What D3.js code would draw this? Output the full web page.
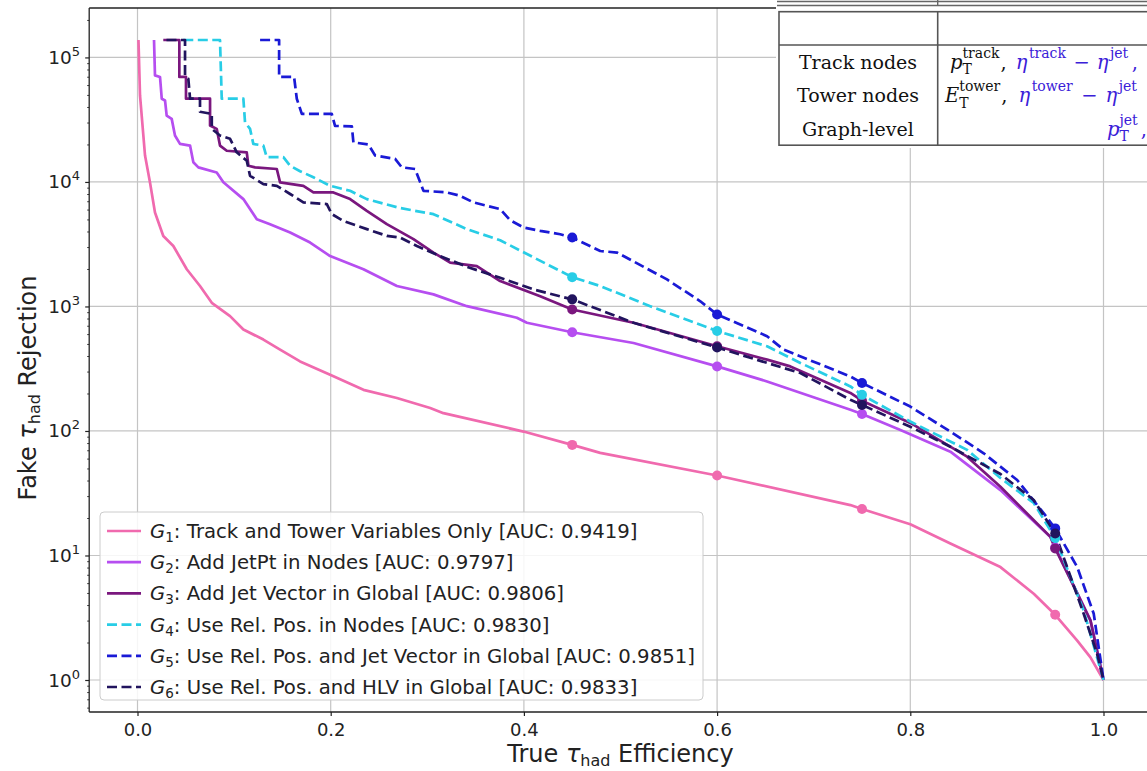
<!DOCTYPE html>
<html>
<head>
<meta charset="utf-8">
<script src="https://cdn.jsdelivr.net/npm/d3@7/dist/d3.min.js"></script>
<style>
html,body{margin:0;padding:0;background:#fff;}
svg{display:block;}
text{white-space:pre;}
</style>
</head>
<body>
<svg id="chart" width="1147" height="771"></svg>
<script>
// ---------------- data ----------------
const seriesNames = ["Track and Tower Variables Only","Add JetPt in Nodes","Add Jet Vector in Global",
  "Use Rel. Pos. in Nodes","Use Rel. Pos. and Jet Vector in Global","Use Rel. Pos. and HLV in Global"];
const aucValues = ["0.9419","0.9797","0.9806","0.9830","0.9851","0.9833"];

const effG1 = [0.001,0.0026,0.0078,0.0129,0.0181,0.0267,0.0371,0.051,0.0647,0.0769,0.0958,0.1096,0.1303,0.1476,0.1683,0.1994,0.2339,0.2685,0.303,0.3167,0.3996,0.45,0.479,0.6,0.738,0.75,0.8,0.8415,0.8933,0.9278,0.95,0.9728,0.9865,1.0];
const rejG1 = [138000,49500,16300,9930,5690,3680,3060,1990,1460,1070,836,653,542,450,362,283,214,184,153,139,98.9,77.3,66.7,43.9,25.4,23.6,17.8,12.5,8.07,4.93,3.34,2.07,1.52,1];

const effG2 = [0.0171,0.0181,0.0233,0.0251,0.0285,0.0302,0.0354,0.0388,0.044,0.0544,0.0578,0.063,0.082,0.0889,0.1096,0.1235,0.1372,0.158,0.1787,0.1994,0.2339,0.2685,0.3064,0.341,0.3927,0.4031,0.45,0.5135,0.6,0.6517,0.738,0.75,0.7898,0.8415,0.8933,0.9451,0.95,0.9865,1.0];
const rejG2 = [138000,71800,69700,46600,45100,34100,32100,23600,20200,19600,14400,13100,11900,9930,7280,5020,4580,3930,3260,2540,1990,1460,1250,1005,811,740,621,509,330,250,148,137,102,68.2,33.5,14.1,11.6,3.01,1];

const effG3 = [0.0267,0.0433,0.0433,0.0502,0.0502,0.0751,0.0751,0.082,0.0854,0.0924,0.1131,0.1148,0.1217,0.1442,0.1476,0.1717,0.1821,0.2028,0.2201,0.2374,0.2581,0.2857,0.3064,0.3237,0.3513,0.3754,0.4169,0.45,0.5135,0.6,0.6517,0.6758,0.738,0.75,0.8,0.8588,0.8933,0.9451,0.95,0.9865,1.0];
const rejG3 = [138000,138000,69700,69700,46600,46600,28400,26700,19600,17800,17300,13500,13100,12700,9930,9310,8240,8240,7280,5860,4580,3470,2710,2250,2110,1600,1210,946,740,479,374,330,202,175,116,62.2,35.6,14.1,11.4,3.01,1];

const effG4 = [0.0474,0.0854,0.0872,0.1096,0.1113,0.1165,0.1199,0.1303,0.1338,0.151,0.158,0.1683,0.1821,0.1994,0.2201,0.2374,0.2719,0.3064,0.341,0.3754,0.4099,0.45,0.479,0.5308,0.6,0.6517,0.6862,0.738,0.75,0.8,0.8588,0.8933,0.9278,0.95,0.9795,1.0];
const rejG4 = [138000,138000,46600,46600,30200,26700,20200,19600,15800,15800,13500,12200,10900,9310,8490,7280,6170,5510,4180,3400,2480,1720,1460,1005,635,479,352,228,195,119,70.5,41.9,26.4,13.8,3.61,1];

const effG5 = [0.1269,0.1466,0.1466,0.1621,0.1649,0.1701,0.2011,0.2045,0.2219,0.2235,0.239,0.246,0.2667,0.2736,0.2874,0.296,0.3202,0.334,0.3478,0.3754,0.3858,0.3996,0.4169,0.4376,0.45,0.479,0.4963,0.5481,0.5826,0.6,0.6517,0.6689,0.738,0.75,0.8,0.8415,0.876,0.9106,0.9382,0.95,0.9728,0.9899,1.0];
const rejG5 = [138000,138000,69700,69700,46600,35200,35200,28200,27900,20800,20000,16300,15300,13100,12700,8490,8240,7740,6850,6050,4930,4310,4050,3800,3580,2790,2710,1650,1100,863,577,450,274,243,157,98.9,66.2,40.4,21.8,16.5,8.07,3.40,1];

const effG6 = [0.03,0.0492,0.0492,0.0526,0.0544,0.0647,0.0647,0.0769,0.0769,0.0854,0.0958,0.1027,0.1131,0.1165,0.1303,0.1442,0.158,0.1717,0.196,0.2011,0.2132,0.2374,0.2581,0.2719,0.2892,0.3133,0.341,0.3754,0.4099,0.45,0.5135,0.6,0.6517,0.6862,0.738,0.75,0.8,0.8415,0.8933,0.9278,0.95,0.9795,0.9934,1.0];
const rejG6 = [138000,138000,71300,67500,46600,46600,36600,35200,26700,23600,22200,17300,14800,11200,9620,9310,8000,6850,6640,5520,4860,4180,3690,3580,3060,2540,2080,1700,1370,1140,740,468,352,292,178,162,108,74.8,45.1,27.9,15.0,3.40,1.62,1];

// working points (markers)
const wpEff = [0.45,0.6,0.75,0.95];
const wpG1 = [77.3,43.9,23.6,3.34];
const wpG2 = [621,330,137,11.6];
const wpG3 = [946,479,175,11.4];
const wpG4 = [1720,635,195,13.8];
const wpG5 = [3580,863,243,16.5];
const wpG6 = [1140,468,162,15.0];

const xTickValues = [0.0,0.2,0.4,0.6,0.8,1.0];
const yTickValues = [1,10,100,1000,10000,100000];
const yTickExponents = ["0","1","2","3","4","5"];

// ---------------- styles ----------------
const colors = ["#f06aae","#b64ef0","#7a177e","#28cde6","#1a1ad6","#21145e"];
const dashed = [false,false,false,true,true,true];

const series = [
  {eff:effG1, rej:rejG1, wp:wpG1},
  {eff:effG2, rej:rejG2, wp:wpG2},
  {eff:effG3, rej:rejG3, wp:wpG3},
  {eff:effG4, rej:rejG4, wp:wpG4},
  {eff:effG5, rej:rejG5, wp:wpG5},
  {eff:effG6, rej:rejG6, wp:wpG6}
];

// ---------------- layout ----------------
const svg = d3.select("#chart");
const L = 89.2, R = 1151.8, T = 8, B = 712;
const x = d3.scaleLinear().domain([-0.05,1.05]).range([L,R]);
const y = d3.scaleLog().domain([Math.pow(10,-0.257), Math.pow(10,5.397)]).range([B,T]);
const FONT = "'DejaVu Sans', sans-serif";

svg.append("defs").append("clipPath").attr("id","plotclip")
  .append("rect").attr("x",L).attr("y",T).attr("width",R-L).attr("height",B-T);

// grid
const grid = svg.append("g");
grid.selectAll("line.gx").data(xTickValues).join("line")
  .attr("x1",d=>x(d)).attr("x2",d=>x(d)).attr("y1",T).attr("y2",B)
  .attr("stroke","#c4c4c4").attr("stroke-width",1.2);
grid.selectAll("line.gy").data(yTickValues).join("line")
  .attr("x1",L).attr("x2",R).attr("y1",d=>y(d)).attr("y2",d=>y(d))
  .attr("stroke","#c4c4c4").attr("stroke-width",1.2);

// x axis
const xAxis = d3.axisBottom(x).tickValues(xTickValues).tickFormat(d3.format(".1f"))
  .tickSizeInner(4).tickSizeOuter(0).tickPadding(7);
const gx = svg.append("g").attr("transform",`translate(0,${B})`).call(xAxis);
gx.select(".domain").remove();
gx.selectAll(".tick line").attr("stroke","#222").attr("stroke-width",1.2);
gx.selectAll(".tick text").attr("font-family",FONT).attr("font-size",18).attr("fill","#222");

// y axis major
const yAxis = d3.axisLeft(y).tickValues(yTickValues).tickFormat("").tickSizeInner(4).tickSizeOuter(0);
const gy = svg.append("g").attr("transform",`translate(${L},0)`).call(yAxis);
gy.select(".domain").remove();
gy.selectAll(".tick line").attr("stroke","#222").attr("stroke-width",1.2);
// y axis minor
const minorVals = [];
for (let e=-1;e<=5;e++) for (let m=2;m<=9;m++){ const v=m*Math.pow(10,e); if (v>=y.domain()[0] && v<=y.domain()[1]) minorVals.push(v); }
const gym = svg.append("g").attr("transform",`translate(${L},0)`)
  .call(d3.axisLeft(y).tickValues(minorVals).tickFormat("").tickSizeInner(2).tickSizeOuter(0));
gym.select(".domain").remove();
gym.selectAll(".tick line").attr("stroke","#222").attr("stroke-width",0.9);

// y tick labels with superscripts
const ylab = svg.append("g");
yTickValues.forEach((v,i)=>{
  const t = ylab.append("text").attr("x",80).attr("y",y(v)+6.5).attr("text-anchor","end")
    .attr("font-family",FONT).attr("font-size",18.5).attr("fill","#222");
  t.append("tspan").text("10");
  t.append("tspan").attr("dy",-8).attr("font-size",13).text(yTickExponents[i]);
});

// curves
const line = d3.line().x(d=>x(d[0])).y(d=>y(d[1]));
const curves = svg.append("g").attr("clip-path","url(#plotclip)");
series.forEach((s,i)=>{
  const pts = s.eff.map((e,j)=>[e,s.rej[j]]);
  curves.append("path").datum(pts).attr("d",line)
    .attr("fill","none").attr("stroke",colors[i]).attr("stroke-width",2.7)
    .attr("stroke-linejoin","round")
    .attr("stroke-dasharray",dashed[i]?"10,4.5":null);
});
series.forEach((s,i)=>{
  curves.selectAll(null).data(wpEff.map((e,j)=>[e,s.wp[j]])).join("circle")
    .attr("cx",d=>x(d[0])).attr("cy",d=>y(d[1])).attr("r",5).attr("fill",colors[i]);
});

// frame (spines)
svg.append("line").attr("x1",L).attr("x2",L).attr("y1",T).attr("y2",B).attr("stroke","#222").attr("stroke-width",1.3);
svg.append("line").attr("x1",L).attr("x2",R).attr("y1",B).attr("y2",B).attr("stroke","#222").attr("stroke-width",1.3);
svg.append("line").attr("x1",L).attr("x2",R).attr("y1",T).attr("y2",T).attr("stroke","#222").attr("stroke-width",1.3);

// axis titles
const xt = svg.append("text").attr("x",(L+R)/2).attr("y",762).attr("text-anchor","middle")
  .attr("font-family",FONT).attr("font-size",24).attr("fill","#222");
xt.append("tspan").text("True ");
xt.append("tspan").attr("font-style","italic").text("τ");
xt.append("tspan").attr("dy",4).attr("font-size",16).text("had");
xt.append("tspan").attr("dy",-4).text(" Efficiency");

const yt = svg.append("text").attr("transform","translate(36,388) rotate(-90)").attr("text-anchor","middle")
  .attr("font-family",FONT).attr("font-size",24).attr("fill","#222");
yt.append("tspan").text("Fake ");
yt.append("tspan").attr("font-style","italic").text("τ");
yt.append("tspan").attr("dy",4).attr("font-size",16).text("had");
yt.append("tspan").attr("dy",-4).text(" Rejection");

// legend
const lg = svg.append("g");
lg.append("rect").attr("x",100).attr("y",512).attr("width",603).attr("height",188).attr("rx",4)
  .attr("fill","#fff").attr("fill-opacity",0.85).attr("stroke","#cccccc").attr("stroke-width",1);
series.forEach((s,i)=>{
  const ry = 531 + i*31.2;
  lg.append("line").attr("x1",107).attr("x2",141).attr("y1",ry).attr("y2",ry)
    .attr("stroke",colors[i]).attr("stroke-width",2.7)
    .attr("stroke-dasharray",dashed[i]?"10,4.5":null);
  const t = lg.append("text").attr("x",150).attr("y",ry+7).attr("font-family",FONT)
    .attr("font-size",19.7).attr("fill","#222");
  t.append("tspan").attr("font-style","italic").text("G");
  t.append("tspan").attr("dy",4).attr("font-size",13.5).text(String(i+1));
  t.append("tspan").attr("dy",-4).text(`: ${seriesNames[i]} [AUC: ${aucValues[i]}]`);
});

// table overlay (top right), cropped at the picture edge as in the reference
const tb = svg.append("g");
tb.append("defs").append("clipPath").attr("id","tabclip").append("rect").attr("x",776).attr("y",0).attr("width",371).attr("height",150);
const tg = tb.append("g").attr("clip-path","url(#tabclip)");
tg.append("rect").attr("x",776).attr("y",0).attr("width",371).attr("height",148).attr("fill","#fff");
tg.append("line").attr("x1",777).attr("x2",1147).attr("y1",1.5).attr("y2",1.5).attr("stroke","#666").attr("stroke-width",1.6);
tg.append("line").attr("x1",777).attr("x2",1147).attr("y1",5.5).attr("y2",5.5).attr("stroke","#666").attr("stroke-width",1.6);
tg.append("line").attr("x1",937.7).attr("x2",937.7).attr("y1",0).attr("y2",5.5).attr("stroke","#666").attr("stroke-width",1.4);
tg.append("rect").attr("x",779).attr("y",11.7).attr("width",380).attr("height",133.5)
  .attr("fill","none").attr("stroke","#555").attr("stroke-width",1.6);
tg.append("line").attr("x1",779).attr("x2",1147).attr("y1",45).attr("y2",45).attr("stroke","#555").attr("stroke-width",1.6);
tg.append("line").attr("x1",937.7).attr("x2",937.7).attr("y1",11.7).attr("y2",145.2).attr("stroke","#555").attr("stroke-width",1.6);

const SERIF = "'DejaVu Serif', serif";
const rowNames = ["Track nodes","Tower nodes","Graph-level"];
const rowBase = [68.5,102,135.5];
rowNames.forEach((n,i)=>{
  tg.append("text").attr("x",858).attr("y",rowBase[i]).attr("text-anchor","middle")
    .attr("font-family",SERIF).attr("font-size",19).attr("fill","#111").text(n);
});
const BLUE = "#3a20d8", BLACK = "#111";
function put(txt, px, py, size, italic, color){
  const t = tg.append("text").attr("x",px).attr("y",py).attr("font-family",SERIF)
    .attr("font-size",size).attr("fill",color).attr("font-style",italic?"italic":"normal").text(txt);
  return t.node().getComputedTextLength();
}
// sequential math layout: {t} base, {sub,sup} stacked scripts, {sup} superscript, {gap}
function mathRow(x0, yb, parts){
  let cx = x0;
  parts.forEach(p=>{
    if (p.gap){ cx += p.gap; }
    else if (p.sub){
      const w1 = put(p.sub, cx, yb+5.5, 14, false, p.c);
      const w2 = put(p.sup, cx, yb-11, 14, false, p.c);
      cx += Math.max(w1,w2) + 1;
    } else if (p.sup){
      cx += put(p.sup, cx+1.5, yb-11, 14, false, p.c) + 2;
    } else {
      cx += put(p.t, cx, yb, 19.5, !!p.it, p.c);
    }
  });
}
mathRow(950, rowBase[0], [
  {t:"p",it:true,c:BLACK},{sub:"T",sup:"track",c:BLACK},{t:",",c:BLACK},{gap:9},
  {t:"η",it:true,c:BLUE},{sup:"track",c:BLUE},{gap:7},{t:"−",c:BLUE},{gap:7},{t:"η",it:true,c:BLUE},{sup:"jet",c:BLUE},{gap:3},{t:",",c:BLUE}
]);
mathRow(945, rowBase[1], [
  {t:"E",it:true,c:BLACK},{sub:"T",sup:"tower",c:BLACK},{t:",",c:BLACK},{gap:11},
  {t:"η",it:true,c:BLUE},{sup:"tower",c:BLUE},{gap:8},{t:"−",c:BLUE},{gap:8},{t:"η",it:true,c:BLUE},{sup:"jet",c:BLUE}
]);
mathRow(1107, rowBase[2], [
  {t:"p",it:true,c:BLUE},{sub:"T",sup:"jet",c:BLUE},{gap:2},{t:",",c:BLUE}
]);
</script>
</body>
</html>
